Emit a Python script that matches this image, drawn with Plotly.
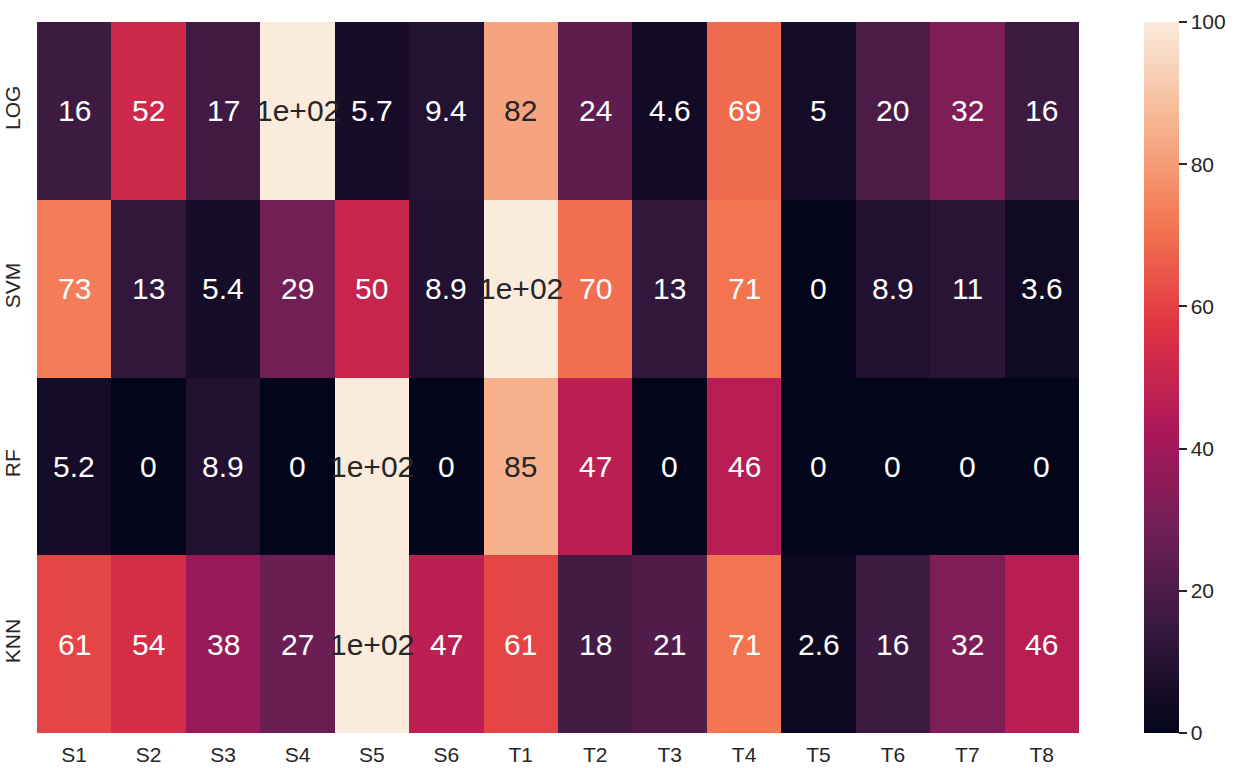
import numpy as np
import plotly.graph_objects as go

# columns / rows of the score matrix
columns = ["S1", "S2", "S3", "S4", "S5", "S6", "T1", "T2", "T3", "T4", "T5", "T6", "T7", "T8"]
models = ["LOG", "SVM", "RF", "KNN"]

log_vals = [16, 52, 17, 100, 5.7, 9.4, 82, 24, 4.6, 69, 5, 20, 32, 16]
svm_vals = [73, 13, 5.4, 29, 50, 8.9, 100, 70, 13, 71, 0, 8.9, 11, 3.6]
rf_vals = [5.2, 0, 8.9, 0, 100, 0, 85, 47, 0, 46, 0, 0, 0, 0]
knn_vals = [61, 54, 38, 27, 100, 47, 61, 18, 21, 71, 2.6, 16, 32, 46]

cbar_ticks = [0, 20, 40, 60, 80, 100]

z = np.array([log_vals, svm_vals, rf_vals, knn_vals], dtype=float)

# seaborn "rocket" colormap, sampled
rocket_hex = ["#03051a", "#35193e", "#701f57", "#ad1759",
              "#e13342", "#f37651", "#f6b48f", "#faebdd"]
rocket_pos = np.linspace(0, 1, len(rocket_hex))
colorscale = [[float(p), c] for p, c in zip(rocket_pos, rocket_hex)]


def hex_rgb(h):
    return np.array([int(h[i:i + 2], 16) for i in (1, 3, 5)]) / 255.0


rocket_rgb = np.array([hex_rgb(h) for h in rocket_hex])


def cell_color(v, vmin=0, vmax=100):
    t = (v - vmin) / (vmax - vmin)
    return np.array([np.interp(t, rocket_pos, rocket_rgb[:, k]) for k in range(3)])


def luminance(rgb):
    c = np.where(rgb <= 0.03928, rgb / 12.92, ((rgb + 0.055) / 1.055) ** 2.4)
    return 0.2126 * c[0] + 0.7152 * c[1] + 0.0722 * c[2]


font = "Liberation Sans, Arial, sans-serif"

fig = go.Figure(
    go.Heatmap(
        z=z,
        x=columns,
        y=models,
        zmin=0,
        zmax=100,
        colorscale=colorscale,
        hoverinfo="z",
        colorbar=dict(
            thickness=35,
            len=1,
            lenmode="fraction",
            y=0.5,
            yanchor="middle",
            ypad=0,
            x=1.0624,
            xanchor="left",
            xpad=0,
            outlinewidth=0,
            tickvals=cbar_ticks,
            tickprefix="\u00a0",
            ticks="outside",
            ticklen=8,
            tickwidth=1.5,
            tickcolor="#262626",
            tickfont=dict(size=21, color="#262626", family=font),
        ),
    )
)

# cell annotations, seaborn style ".2g" with contrast colour
for i, m in enumerate(models):
    for j, c in enumerate(columns):
        v = z[i, j]
        txt = f"{v:.2g}"
        col = "#262626" if luminance(cell_color(v)) > 0.408 else "white"
        fig.add_annotation(x=c, y=m, text=txt, showarrow=False,
                           font=dict(size=30, color=col, family=font))

fig.update_layout(
    width=1235,
    height=768,
    margin=dict(l=37, r=156, t=22, b=35, autoexpand=False),
    paper_bgcolor="white",
    plot_bgcolor="white",
    font=dict(family=font, color="#262626"),
    xaxis=dict(showgrid=False, zeroline=False, ticks="", automargin=False,
               ticklabelstandoff=7, tickfont=dict(size=21, color="#262626")),
    yaxis=dict(showgrid=False, zeroline=False, ticks="", autorange="reversed",
               automargin=False, tickangle=-90, ticklabelstandoff=12,
               tickfont=dict(size=21, color="#262626")),
)

# drop the page margin so the figure sits at the window corner
fig.write_html("out.html", config={"displayModeBar": False},
               post_script="document.body.style.margin='0';")
